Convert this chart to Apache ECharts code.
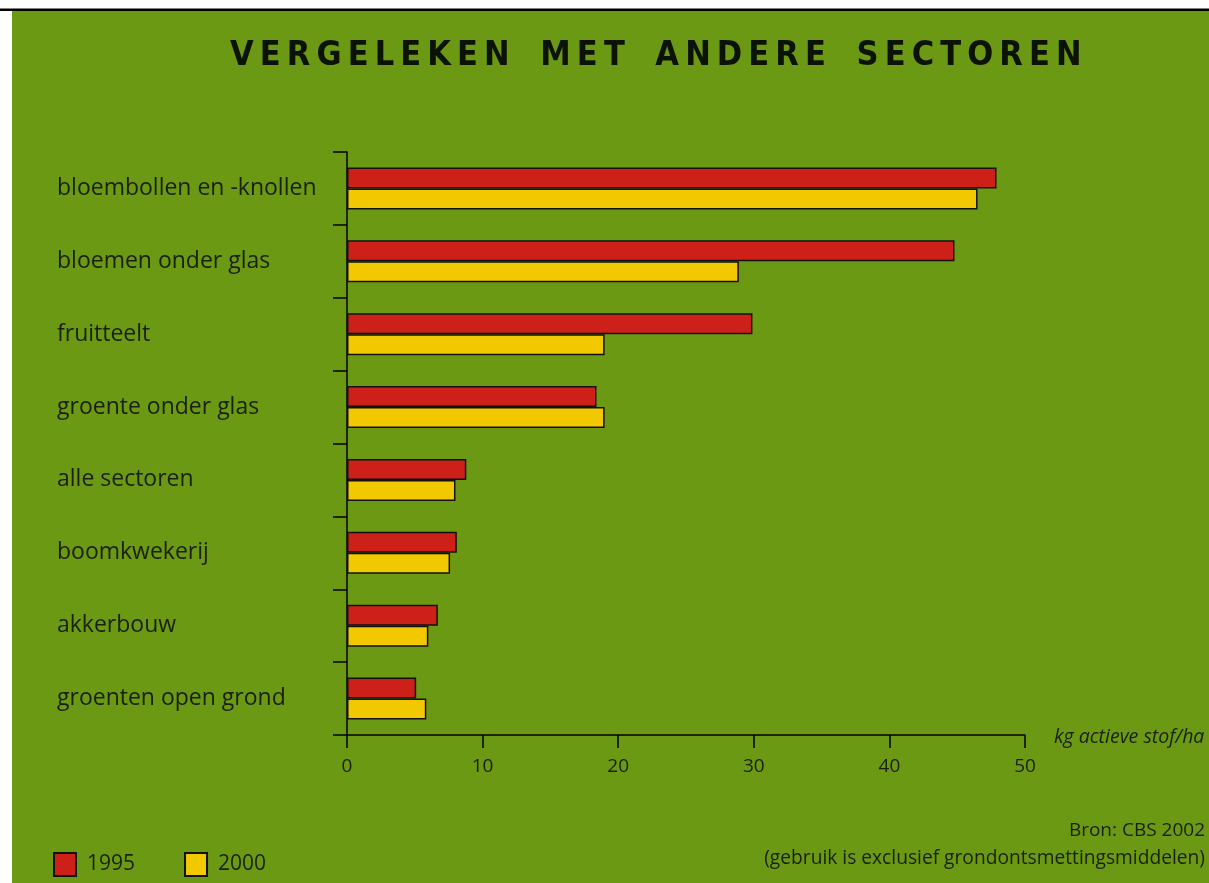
<!DOCTYPE html>
<html>
<head>
<meta charset="utf-8">
<script src="https://cdn.jsdelivr.net/npm/echarts@6/dist/echarts.min.js"></script>
<style>
html,body{margin:0;padding:0;background:#fff;}
#chart{width:1209px;height:883px;}
</style>
</head>
<body>
<div id="chart"></div>
<script>
var categories = ['bloembollen en -knollen','bloemen onder glas','fruitteelt','groente onder glas','alle sectoren','boomkwekerij','akkerbouw','groenten open grond'];
var values1995 = [47.9, 44.8, 29.9, 18.4, 8.8, 8.1, 6.7, 5.1];
var values2000 = [46.5, 28.9, 19.0, 19.0, 8.0, 7.6, 6.0, 5.85];
var xTicks = [0, 10, 20, 30, 40, 50];
var seriesNames = ['1995', '2000'];

var GREEN = '#6b9914';
var TEXT = '#1a200c';
var FONT = '"Open Sans", "DejaVu Sans", sans-serif';

var title = 'VERGELEKEN MET ANDERE SECTOREN';
var spaced = title.split(' ').map(function(w){ return w.split('').join('\u2009'); }).join('\u2003');

var chart = echarts.init(document.getElementById('chart'), null, {renderer: 'canvas'});
chart.setOption({
  backgroundColor: '#ffffff',
  animation: false,
  graphic: [
    {type: 'rect', z: -10, shape: {x: 12, y: 10, width: 1197, height: 873}, style: {fill: GREEN}},
    {type: 'rect', z: -9, shape: {x: 0, y: 8.5, width: 1209, height: 2.5}, style: {fill: '#000'}},
    {type: 'text', left: 230, top: 39, style: {text: spaced, font: 'bold condensed 34px "DejaVu Sans"', fill: '#0d1206'}},
    {type: 'text', right: 4, top: 821, style: {text: 'Bron: CBS 2002', font: '19px ' + FONT, fill: TEXT, textAlign: 'right'}},
    {type: 'text', right: 4, top: 849, style: {text: '(gebruik is exclusief grondontsmettingsmiddelen)', font: '19.2px ' + FONT, fill: TEXT, textAlign: 'right'}},
    {type: 'text', left: 1054, top: 727, style: {text: 'kg actieve stof/ha', font: 'italic 19.5px ' + FONT, fill: TEXT}}
  ],
  legend: {
    left: 53, top: 852, padding: 0,
    icon: 'rect',
    itemWidth: 22, itemHeight: 23,
    itemGap: 49,
    textStyle: {fontFamily: FONT, fontSize: 21, color: TEXT, padding: [0, 0, 0, 6]},
    data: seriesNames
  },
  grid: {left: 347, right: 184, top: 152, bottom: 148, containLabel: false},
  xAxis: {
    type: 'value', min: 0, max: 50, interval: 10,
    axisLine: {show: true, lineStyle: {color: '#000', width: 1.5}},
    axisTick: {show: true, length: 13, lineStyle: {color: '#000', width: 1.5}},
    splitLine: {show: false},
    axisLabel: {
      margin: 22, fontFamily: FONT, fontSize: 19, color: TEXT,
      formatter: function(v){ return xTicks.indexOf(v) >= 0 ? String(v) : ''; }
    }
  },
  yAxis: {
    type: 'category', data: categories, inverse: true,
    axisLine: {show: true, lineStyle: {color: '#000', width: 1.5}},
    axisTick: {show: true, length: 14, alignWithLabel: false, lineStyle: {color: '#000', width: 1.5}},
    axisLabel: {margin: 290, align: 'left', fontFamily: FONT, fontSize: 23, color: TEXT}
  },
  series: [
    {name: seriesNames[0], type: 'bar', data: values1995, barWidth: 21, barGap: '0%',
     itemStyle: {color: '#cc2018', borderColor: '#111', borderWidth: 1.5}},
    {name: seriesNames[1], type: 'bar', data: values2000, barWidth: 21, barGap: '0%',
     itemStyle: {color: '#f2c800', borderColor: '#111', borderWidth: 1.5}}
  ]
});
</script>
</body>
</html>
